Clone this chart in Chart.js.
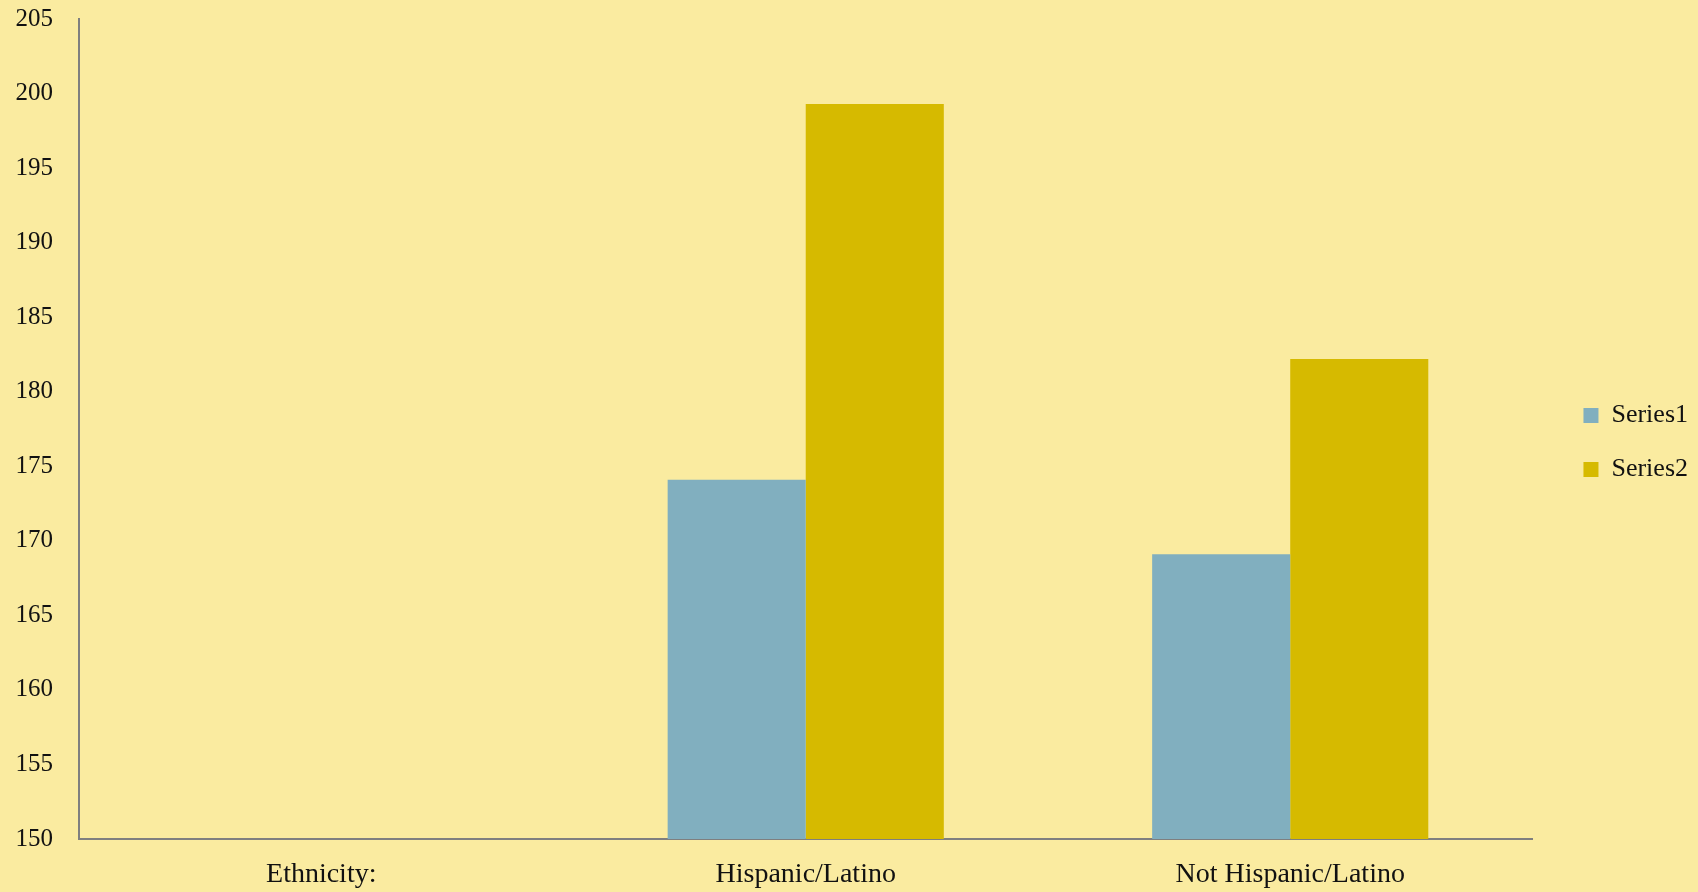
<!DOCTYPE html>
<html>
<head>
	<meta charset="utf-8">
	<script src="https://cdn.jsdelivr.net/npm/chart.js"></script>
	<title>Ethnicity</title>
	<style>
		html, body { margin: 0; padding: 0; background: #faeba0; }
		.grafico { width: 1698px; height: 892px; }
	</style>
</head>
<body>
	<div class="grafico">
		<canvas id="miGrafico" width="1698" height="892"></canvas>
	</div>
	<script>
		// datos
		const categorias = ['Ethnicity:', 'Hispanic/Latino', 'Not Hispanic/Latino'];
		const serie1 = [null, 174.1, 169.1];
		const serie2 = [null, 199.3, 182.2];
		const nombresSeries = ['Series1', 'Series2'];

		const fuente = 'Liberation Serif, Times New Roman, serif';
		const gris = '#7f7f7f';

		// la leyenda queda un poco mas arriba que el centro del lienzo
		const subirLeyenda = {
			id: 'subirLeyenda',
			afterLayout(chart) {
				chart.legend.bottom -= 26;
				chart.legend.height -= 26;
			},
		};

		const ctx = document.getElementById('miGrafico').getContext('2d');
		new Chart(ctx, {
			type: 'bar',
			data: {
				labels: categorias,
				datasets: [
					{ label: nombresSeries[0], data: serie1, backgroundColor: '#81afbf' },
					{ label: nombresSeries[1], data: serie2, backgroundColor: '#d6ba00' },
				],
			},
			plugins: [subirLeyenda],
			options: {
				responsive: false,
				animation: false,
				categoryPercentage: 0.57,
				barPercentage: 1.0,
				layout: { padding: { top: 19, left: 0, right: 0, bottom: 0 } },
				plugins: {
					legend: {
						position: 'right',
						labels: {
							boxWidth: 15,
							boxHeight: 15,
							padding: 28,
							color: '#111',
							font: { family: fuente, size: 26 },
						},
					},
					tooltip: { enabled: false },
				},
				scales: {
					x: {
						grid: { display: false, drawTicks: false },
						border: { color: gris, width: 2 },
						ticks: { color: '#111', padding: 19, font: { family: fuente, size: 28 } },
						afterFit: (s) => { s.height = 53; },
					},
					y: {
						min: 150,
						max: 205,
						grid: { display: false, drawTicks: false },
						border: { color: gris, width: 2 },
						ticks: { stepSize: 5, color: '#111', padding: 26, font: { family: fuente, size: 25 } },
						afterFit: (s) => { s.width = 79; s.paddingTop = 0; s.paddingBottom = 0; },
					},
					// eje vacio a la derecha, solo deja espacio antes de la leyenda
					hueco: {
						position: 'right',
						grid: { display: false, drawTicks: false },
						border: { display: false },
						ticks: { display: false },
						afterFit: (s) => { s.width = 23; },
					},
				},
			},
		});
	</script>
</body>
</html>
